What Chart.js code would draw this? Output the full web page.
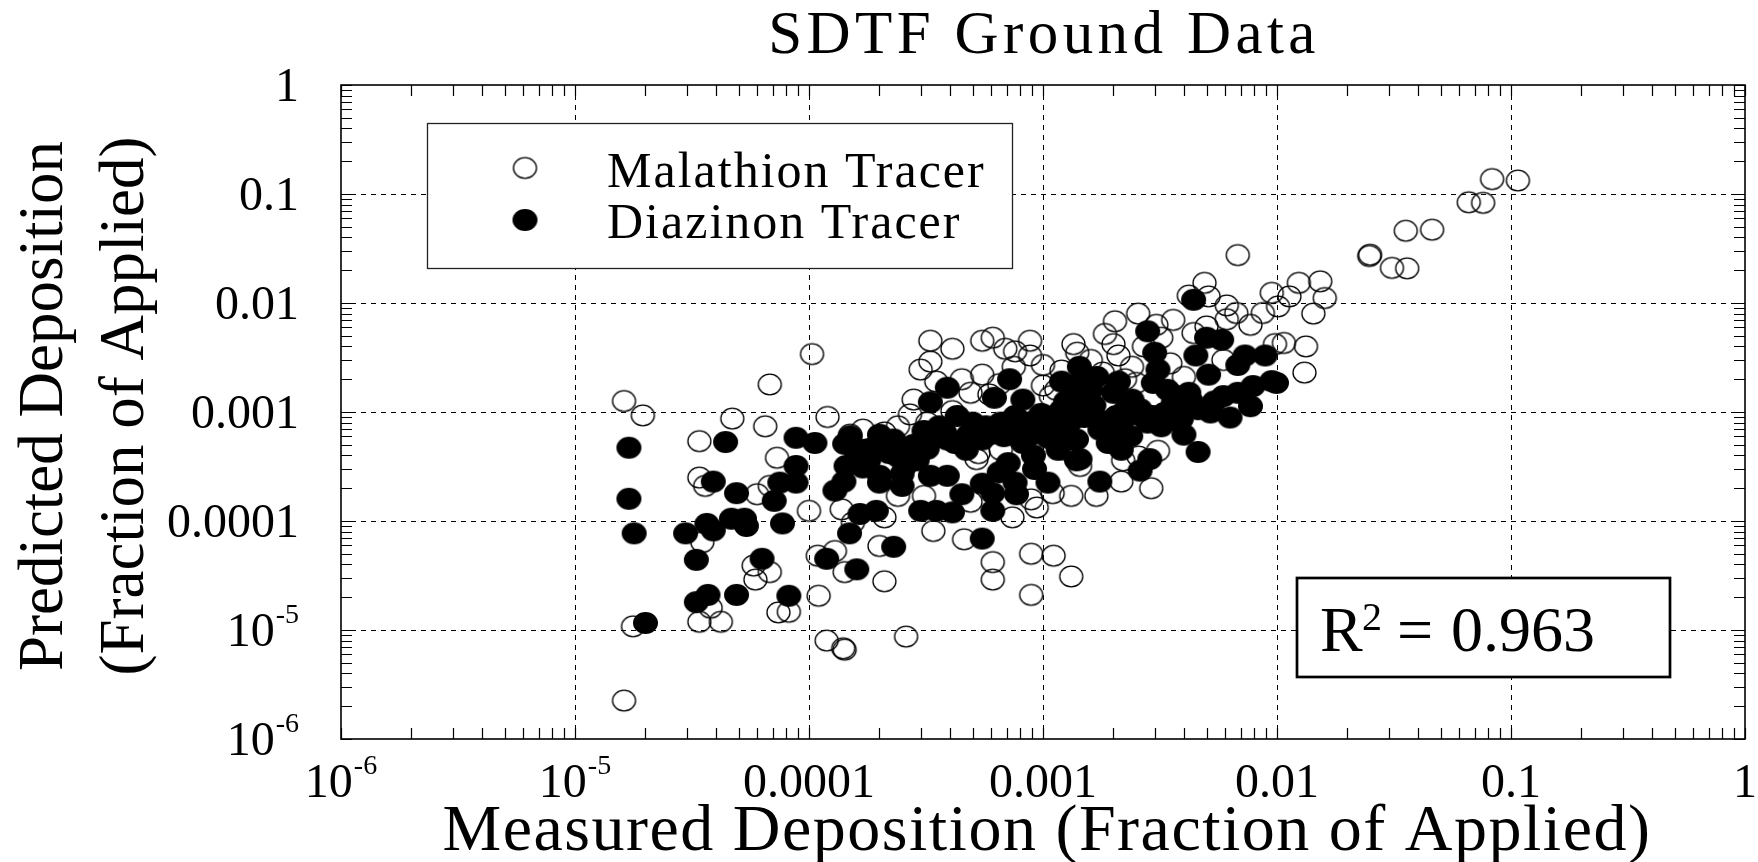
<!DOCTYPE html>
<html>
<head>
<meta charset="utf-8">
<script src="https://cdn.jsdelivr.net/npm/chart.js@4.4.1/dist/chart.umd.min.js"></script>
<style>
html, body { margin: 0; padding: 0; background: #fff; }
canvas { display: block; }
</style>
</head>
<body>
<canvas id="sdtf" width="1758" height="862"></canvas>
<script>
// measured vs predicted deposition, [measured, predicted]
const malathion = [
  [0.083,0.137],[0.107,0.133],[0.066,0.084],[0.076,0.083],[0.0355,0.046],[0.046,0.047],[0.025,0.0277],[0.0248,0.027],[0.031,0.021],[0.036,0.0208],
  [0.0068,0.0275],[0.0049,0.0153],[0.0042,0.0117],[0.0051,0.0115],[0.00255,0.008],[0.00203,0.0068],[0.00184,0.0052],[0.002,0.0042],[0.0021,0.0033],[0.00305,0.0063],
  [0.0036,0.007],[0.0032,0.0048],[0.0061,0.0095],[0.0067,0.0081],[0.0061,0.0071],[0.0077,0.0063],[0.0087,0.0081],[0.0095,0.0124],[0.0101,0.0093],[0.0113,0.0115],
  [0.0124,0.0153],[0.0153,0.0158],[0.016,0.0111],[0.0143,0.008],[0.0098,0.0042],[0.0107,0.0043],[0.0133,0.004],[0.0131,0.0023],[0.0044,0.0053],[0.005,0.0061],
  [0.00224,0.002],[0.0035,0.0028],[0.004,0.0021],[0.0059,0.003],[0.0025,0.00185],
  [1.03e-4,3.4e-3],[6.8e-5,1.79e-3],[1.62e-5,1.26e-3],[1.95e-5,9.3e-4],[4.7e-5,8.7e-4],[6.5e-5,7.4e-4],[3.3e-4,4.5e-3],[4.1e-4,3.8e-3],[3.3e-4,2.9e-3],[3.0e-4,2.45e-3],
  [5.5e-4,4.5e-3],[6.1e-4,4.8e-3],[6.9e-4,3.8e-3],[7.6e-4,3.6e-3],[8.8e-4,4.5e-3],[8.8e-4,3.3e-3],[1.0e-3,2.7e-3],[1.35e-3,4.2e-3],[1.4e-3,3.5e-3],[1.14e-3,1.6e-3],
  [5.9e-4,1.45e-3],[4.1e-4,1.02e-3],[2.7e-4,9.5e-4],[1.7e-4,6.9e-4],[2.4e-4,7.4e-4],[3.2e-4,8.0e-4],
  [3.4e-5,5.4e-4],[3.4e-5,2.5e-4],[3.6e-5,2.1e-4],[6.0e-5,1.76e-4],[7.3e-5,3.8e-4],[6.8e-5,2.1e-4],[3.5e-5,6.4e-5],[5.8e-5,3.9e-5],[5.9e-5,2.9e-5],[6.8e-5,3.4e-5],
  [3.8e-5,1.6e-5],[3.4e-5,1.19e-5],[4.2e-5,1.19e-5],[1.77e-5,1.08e-5],[7.4e-5,1.45e-5],[8.2e-5,1.47e-5],[1.62e-5,2.25e-6],[1.0e-4,1.24e-4],[1.1e-4,2.06e-5],[1.19e-4,8.0e-6],
  [1.4e-4,6.8e-6],[1.42e-4,6.6e-6],[1.09e-4,4.8e-5],[1.29e-4,5.3e-5],[1.42e-4,3.4e-5],[1.38e-4,1.28e-4],[1.54e-4,9.7e-5],[2.0e-4,5.9e-5],[2.1e-4,2.8e-5],[2.6e-4,8.7e-6],
  [2.1e-4,1.08e-4],[3.4e-4,8.1e-5],[4.6e-4,6.8e-5],[6.1e-4,4.2e-5],[6.1e-4,2.9e-5],[8.9e-4,5.0e-5],[1.11e-3,4.8e-5],[1.32e-3,3.1e-5],[8.9e-4,2.1e-5],[7.4e-4,1.08e-4],
  [9.4e-4,1.33e-4],[1.32e-3,1.7e-4],[1.1e-3,1.8e-4],[5.2e-4,3.7e-4],[4.9e-4,1.5e-4],[3.1e-4,1.7e-4],[2.4e-4,1.7e-4],[1.44e-3,3.2e-4],
  [2.9e-3,2.0e-4],[2.16e-3,2.3e-4],[1.69e-3,1.7e-4],[2.2e-3,3.6e-4],[3.1e-3,4.4e-4],
  [1.0e-3,1.75e-3],[4.9e-4,1.5e-3],[2.1e-4,6.5e-4],[1.08e-3,1.4e-3],[2.56e-3,3.9e-4],[1.35e-3,5.6e-4],[1.25e-3,4.5e-4],[1.5e-4,6.2e-4],[5.3e-4,4.2e-4],[8.9e-4,1.58e-4],[6.6e-4,4.5e-4],
  [4.5e-4,2.0e-3],[5.5e-4,2.2e-3],[6.5e-4,1.8e-3],[7.5e-4,2.6e-3],[1.2e-3,2.4e-3],[1.6e-3,3.0e-3],[1.8e-3,2.3e-3],[2.4e-3,2.6e-3],[2.7e-3,4.0e-3],[3.5e-4,1.9e-3],
  [2.8e-4,1.3e-3],[1.2e-4,9.0e-4]
];
const diazinon = [
  [1.7e-5,4.7e-4],[1.7e-5,1.6e-4],[1.79e-5,7.7e-5],[2.0e-5,1.16e-5],[4.4e-5,5.3e-4],[3.9e-5,2.3e-4],[4.9e-5,1.8e-4],[2.97e-5,7.7e-5],[3.66e-5,9.4e-5],[3.9e-5,8.2e-5],
  [4.66e-5,1.05e-4],[5.3e-5,1.05e-4],[5.4e-5,9.0e-5],[3.3e-5,4.4e-5],[6.3e-5,4.5e-5],[3.3e-5,1.8e-5],[3.7e-5,2.1e-5],[4.9e-5,2.1e-5],[8.2e-5,2.06e-5],[7.7e-5,9.5e-5],
  [8.8e-5,5.8e-4],[1.06e-4,5.2e-4],[8.8e-5,3.2e-4],[8.8e-5,2.25e-4],[7.5e-5,2.25e-4],[7.1e-5,1.53e-4],[1.19e-4,4.5e-5],[1.6e-4,3.6e-5],[1.49e-4,7.7e-5],[1.29e-4,1.9e-4],
  [1.42e-4,5.1e-4],[1.44e-4,3.2e-4],[1.65e-4,1.16e-4],[1.94e-4,1.24e-4],[1.75e-4,4.5e-4],[2.0e-4,5.4e-4],[2.0e-4,2.25e-4],[2.3e-4,5.8e-5],[2.5e-4,2.1e-4],[3.0e-4,1.24e-4],
  [3.5e-4,1.24e-4],[4.1e-4,1.2e-4],[3.3e-4,2.6e-4],[3.9e-4,2.6e-4],[4.5e-4,1.76e-4],[5.5e-4,6.9e-5],[6.1e-4,1.24e-4],[7.7e-4,1.76e-4],[6.5e-4,2.8e-4],[1.05e-3,2.25e-4],
  [9.1e-4,4.0e-4],[1.39e-3,3.6e-4],
  [4.6e-3,4.3e-4],[1.75e-3,2.3e-4],[2.6e-3,2.9e-4],[2.86e-3,3.7e-4],[2.16e-3,4.5e-4],[4.0e-3,6.2e-4],
  [4.4e-3,0.0107],[2.8e-3,5.5e-3],[3.0e-3,3.5e-3],[3.1e-3,2.45e-3],[2.96e-3,1.85e-3],[5.0e-3,4.8e-3],[5.8e-3,4.6e-3],[4.5e-3,3.3e-3],[5.1e-3,2.2e-3],[7.3e-3,3.3e-3],
  [8.9e-3,3.3e-3],[6.8e-3,2.7e-3],[7.9e-3,1.73e-3],[9.5e-3,1.92e-3],[9.95e-3,1.85e-3],[7.7e-3,1.13e-3],[6.3e-3,8.9e-4],[1.7e-3,2.1e-3],[2.0e-3,1.5e-3],[2.6e-3,1.06e-3],
  [5.9e-3,1.4e-3],[4.2e-3,1.5e-3],[3.6e-3,1.2e-3],[5.2e-3,9.9e-4],[2.06e-3,9.2e-4],[1.75e-3,6.9e-4],
  [3.9e-4,1.67e-3],[3.3e-4,1.23e-3],[7.2e-4,2.0e-3],[6.2e-4,1.35e-3],[8.2e-4,1.3e-3],[1.43e-3,2.6e-3],[1.35e-3,1.73e-3],[1.35e-3,9.9e-4],[5.0e-4,8.0e-4],[3.6e-4,7.4e-4],
  [3.1e-4,6.7e-4],[2.0e-4,6.2e-4],[1.5e-4,6.0e-4],
  [1.52e-3,1.3e-3],[1.03e-3,7.4e-4],[7.6e-4,9.2e-4],[1.44e-3,3.7e-4],[4.6e-3,1.06e-3],[2.94e-3,9.2e-4],[2.26e-3,1.06e-3],[2.02e-3,6.5e-4],[1.39e-3,5.6e-4],[8.2e-4,5.2e-4],
  [9.2e-4,3.0e-4],[7.6e-4,2.25e-4],
  [2.6e-4,4.7e-4],[1.41e-4,2.3e-4],[1.7e-4,3.1e-4],[2.57e-4,3.2e-4],[2.4e-4,3.9e-4],[2.0e-4,2.6e-4],[4.3e-4,9.2e-4],[4.7e-4,4.5e-4],[5.5e-4,5.6e-4],[5.5e-4,2.2e-4],
  [7.1e-4,3.4e-4],[6.1e-4,1.8e-4],[8.0e-4,6.9e-4],[9.4e-4,8.5e-4],[1.16e-3,4.5e-4],[2.37e-3,6.0e-4],[3.2e-3,7.4e-4],[3.6e-3,8.5e-4],[5.7e-4,7.4e-4],[6.6e-4,8.0e-4],
  [1.9e-3,5.2e-4],[3.9e-4,5.6e-4],[1.4e-3,1.4e-3],
  [1.6e-4,4.0e-4],[1.8e-4,3.6e-4],[2.2e-4,4.2e-4],[2.3e-4,5.6e-4],[2.8e-4,5.0e-4],[3.2e-4,4.6e-4],[3.4e-4,5.8e-4],[3.8e-4,6.5e-4],[4.2e-4,5.2e-4],[4.8e-4,6.2e-4],
  [5.2e-4,6.8e-4],[6.0e-4,6.3e-4],[6.8e-4,6.0e-4],[7.4e-4,7.2e-4],[8.6e-4,8.0e-4],[9.8e-4,9.6e-4],[1.1e-3,8.6e-4],[1.2e-3,1.05e-3],[1.3e-3,8.0e-4],[1.5e-3,9.0e-4],
  [1.65e-3,1.15e-3],[1.85e-3,8.2e-4],[2.2e-3,8.6e-4],[2.5e-3,9.5e-4],[2.8e-3,8.0e-4],[3.3e-3,9.8e-4],[3.9e-3,8.6e-4],[4.3e-3,1.25e-3],[1.25e-3,1.25e-3],[1.6e-3,1.6e-3],
  [1.2e-3,1.9e-3],[1.55e-3,2.1e-3],[2.4e-3,1.3e-3],[2.1e-3,1.9e-3],[3.4e-3,1.6e-3],[6.8e-3,1.5e-3],[5.4e-3,1.25e-3],[1.05e-3,5.8e-4],[8.8e-4,6.1e-4],[1.15e-3,6.6e-4],
  [2.5e-4,2.7e-4],[2.9e-4,3.6e-4]
];
const seriesNames = ["Malathion Tracer", "Diazinon Tracer"];
const decades = [1e-6, 1e-5, 1e-4, 1e-3, 1e-2, 1e-1, 1];
const xTickLabels = ["10^-6", "10^-5", "0.0001", "0.001", "0.01", "0.1", "1"];
const yTickLabels = ["10^-6", "10^-5", "0.0001", "0.001", "0.01", "0.1", "1"];
const minorSteps = [2, 3, 4, 5, 6, 7, 8, 9];
const chartTitle = "SDTF Ground Data";
const xTitle = "Measured Deposition (Fraction of Applied)";
const yTitle = ["Predicted Deposition", "(Fraction of Applied)"];
const r2Value = "0.963";

const serif = '"Liberation Serif", "Times New Roman", serif';

// slightly wide ellipse markers like the original plot
function marker(rx, ry, filled) {
  const c = document.createElement('canvas');
  c.width = Math.ceil(rx * 2 + 4);
  c.height = Math.ceil(ry * 2 + 4);
  const g = c.getContext('2d');
  g.beginPath();
  g.ellipse(c.width / 2, c.height / 2, rx, ry, 0, 0, Math.PI * 2);
  if (filled) {
    g.fillStyle = '#000';
    g.fill();
  } else {
    g.lineWidth = 1.3;
    g.strokeStyle = '#000';
    g.stroke();
  }
  return c;
}
const openMark = marker(11.5, 10.3, false);
const fullMark = marker(12.5, 11, true);

function toPoints(list) {
  return list.map(p => ({x: p[0], y: p[1]}));
}

function drawLabel(ctx, label, px, base, align) {
  const parts = label.split('^');
  ctx.font = '48px ' + serif;
  const w1 = ctx.measureText(parts[0]).width;
  let w2 = 0;
  if (parts[1]) {
    ctx.font = '28px ' + serif;
    w2 = ctx.measureText(parts[1]).width + 1;
  }
  const left = align === 'center' ? px - (w1 + w2) / 2 : px - (w1 + w2);
  ctx.textAlign = 'left';
  ctx.font = '48px ' + serif;
  ctx.fillText(parts[0], left, base);
  if (parts[1]) {
    ctx.font = '28px ' + serif;
    ctx.fillText(parts[1], left + w1 + 1, base - 23);
  }
}

const frame = {
  id: 'frame',
  beforeDatasetsDraw(chart) {
    const {ctx, chartArea: a, scales: {x, y}} = chart;
    ctx.save();
    ctx.strokeStyle = '#000';
    ctx.lineWidth = 1;
    ctx.setLineDash([5, 5]);
    decades.slice(1, -1).forEach(v => {
      const px = Math.round(x.getPixelForValue(v)) + 0.5;
      ctx.beginPath(); ctx.moveTo(px, a.top); ctx.lineTo(px, a.bottom); ctx.stroke();
      const py = Math.round(y.getPixelForValue(v)) + 0.5;
      ctx.beginPath(); ctx.moveTo(a.left, py); ctx.lineTo(a.right, py); ctx.stroke();
    });
    ctx.restore();
  },
  afterDatasetsDraw(chart) {
    const {ctx, chartArea: a, scales: {x, y}} = chart;
    ctx.save();
    ctx.strokeStyle = '#000';
    ctx.fillStyle = '#000';

    // inward ticks on all four sides
    ctx.lineWidth = 1.2;
    const tl = 11;
    const tickVals = [];
    decades.forEach((d, i) => {
      tickVals.push(d);
      if (i < decades.length - 1) minorSteps.forEach(m => tickVals.push(m * d));
    });
    ctx.beginPath();
    tickVals.forEach(v => {
      const px = Math.round(x.getPixelForValue(v)) + 0.5;
      ctx.moveTo(px, a.bottom); ctx.lineTo(px, a.bottom - tl);
      ctx.moveTo(px, a.top); ctx.lineTo(px, a.top + tl);
      const py = Math.round(y.getPixelForValue(v)) + 0.5;
      ctx.moveTo(a.left, py); ctx.lineTo(a.left + tl, py);
      ctx.moveTo(a.right, py); ctx.lineTo(a.right - tl, py);
    });
    ctx.stroke();

    ctx.lineWidth = 1.6;
    ctx.strokeRect(a.left, a.top, a.right - a.left, a.bottom - a.top);

    // tick labels
    ctx.textBaseline = 'alphabetic';
    decades.forEach((d, i) => {
      drawLabel(ctx, xTickLabels[i], x.getPixelForValue(d), a.bottom + 58, 'center');
      drawLabel(ctx, yTickLabels[i], a.left - 42, y.getPixelForValue(d) + 16, 'right');
    });

    // legend box
    ctx.fillStyle = '#fff';
    ctx.fillRect(427, 123, 585, 145);
    ctx.lineWidth = 1.3;
    ctx.strokeStyle = '#222';
    ctx.strokeRect(427.5, 123.5, 585, 145);
    ctx.drawImage(openMark, 525 - openMark.width / 2, 168 - openMark.height / 2);
    ctx.drawImage(fullMark, 525 - fullMark.width / 2, 220 - fullMark.height / 2);
    ctx.fillStyle = '#000';
    ctx.font = '50px ' + serif;
    ctx.letterSpacing = '2px';
    ctx.textAlign = 'left';
    ctx.fillText(seriesNames[0], 607, 187);
    ctx.fillText(seriesNames[1], 607, 238);

    // R squared box
    ctx.letterSpacing = '0px';
    ctx.fillStyle = '#fff';
    ctx.fillRect(1297, 578, 373, 99);
    ctx.lineWidth = 2.7;
    ctx.strokeStyle = '#000';
    ctx.strokeRect(1297, 578, 373, 99);
    ctx.fillStyle = '#000';
    ctx.font = '64px ' + serif;
    ctx.fillText('R', 1320, 651);
    ctx.font = '40px ' + serif;
    ctx.fillText('2', 1362, 630);
    ctx.font = '64px ' + serif;
    ctx.fillText('=', 1397, 651);
    ctx.fillText(r2Value, 1451, 651);

    // titles
    ctx.textAlign = 'center';
    ctx.font = '61px ' + serif;
    ctx.letterSpacing = '4.4px';
    ctx.fillText(chartTitle, 1044, 53);
    ctx.font = '66px ' + serif;
    ctx.letterSpacing = '1.5px';
    ctx.fillText(xTitle, (a.left + a.right) / 2 + 4, 850);
    ctx.letterSpacing = '0px';
    ctx.font = '63px ' + serif;
    ctx.translate(0, 406);
    ctx.rotate(-Math.PI / 2);
    ctx.fillText(yTitle[0], 0, 62);
    ctx.fillText(yTitle[1], 0, 143);
    ctx.restore();
  }
};

new Chart("sdtf", {
  type: 'scatter',
  data: {
    datasets: [{
      label: seriesNames[0],
      data: toPoints(malathion),
      pointStyle: openMark,
      pointRadius: 12,
      order: 1
    }, {
      label: seriesNames[1],
      data: toPoints(diazinon),
      pointStyle: fullMark,
      pointRadius: 12,
      order: 0
    }]
  },
  options: {
    responsive: false,
    animation: false,
    devicePixelRatio: 1,
    layout: {
      padding: {left: 341, right: 13, top: 85, bottom: 123}
    },
    scales: {
      x: {type: 'logarithmic', min: 1e-6, max: 1, display: false},
      y: {type: 'logarithmic', min: 1e-6, max: 1, display: false}
    },
    plugins: {
      legend: {display: false},
      tooltip: {enabled: false}
    }
  },
  plugins: [frame]
});
</script>
</body>
</html>
